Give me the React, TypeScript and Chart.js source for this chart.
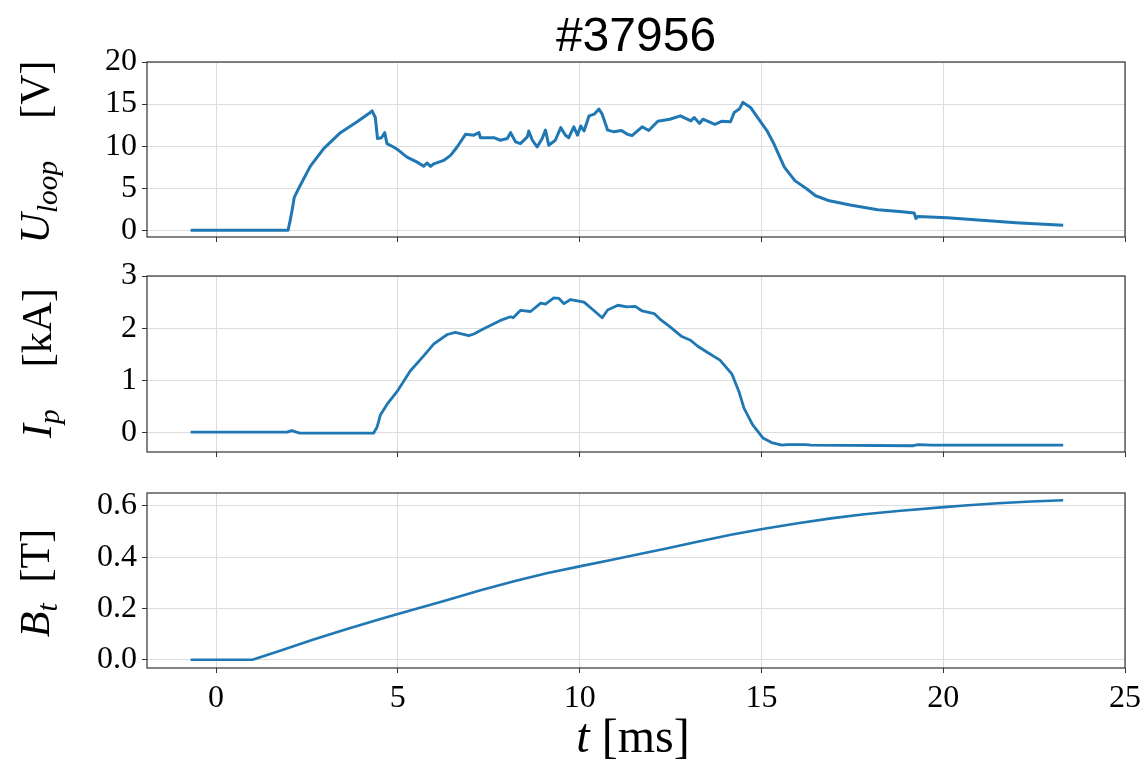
import React, { useEffect, useRef } from 'react';
import { Chart, registerables } from 'chart.js';

Chart.register(...registerables);

// ---------- data ----------
const titleText = '#37956';

const uloopTime = [
  -0.7, 1.98, 2.04, 2.1, 2.15, 2.31, 2.59, 2.96, 3.42, 3.88, 4.24, 4.29, 4.38, 4.44, 4.55, 4.64, 4.7, 4.88,
  5.02, 5.25, 5.53, 5.71, 5.8, 5.9, 5.99, 6.26, 6.45, 6.63, 6.86, 7.09, 7.23, 7.27, 7.64, 7.82, 8.01,
  8.1, 8.24, 8.37, 8.56, 8.6, 8.7, 8.83, 8.97, 9.06, 9.15, 9.33, 9.48, 9.61, 9.7, 9.84, 9.94, 10.03,
  10.12, 10.26, 10.4, 10.53, 10.62, 10.77, 10.95, 11.15, 11.32, 11.44, 11.72, 11.9, 12.15, 12.48,
  12.77, 13.06, 13.15, 13.3, 13.39, 13.72, 13.9, 14.15, 14.25, 14.39, 14.49, 14.63, 14.7, 14.96,
  15.15, 15.34, 15.63, 15.92, 16.25, 16.49, 16.87, 17.44, 18.2, 18.87, 19.2, 19.25, 19.3, 20.11,
  21.06, 22.0, 23.3,
];
const uloopValues = [
  0, 0, 1.2, 2.6, 3.9, 5.3, 7.6, 9.7, 11.6, 12.9, 14.0, 14.2, 13.4, 10.9, 11.0, 11.6, 10.3, 9.9,
  9.5, 8.7, 8.1, 7.6, 8.0, 7.6, 7.9, 8.3, 8.9, 9.9, 11.4, 11.3, 11.6, 11.0, 11.0, 10.7, 10.9,
  11.6, 10.5, 10.3, 11.1, 11.8, 10.7, 9.9, 10.9, 11.9, 10.1, 10.7, 12.2, 11.3, 11.0, 12.3, 11.3, 12.4,
  11.8, 13.6, 13.8, 14.4, 13.8, 11.9, 11.7, 11.85, 11.4, 11.26, 12.3, 11.85, 12.95, 13.2,
  13.6, 13.0, 13.4, 12.7, 13.2, 12.6, 12.95, 12.9, 14.0, 14.4, 15.2, 14.8, 14.6, 13.0,
  11.85, 10.3, 7.5, 5.9, 4.9, 4.1, 3.5, 3.0, 2.45, 2.2, 2.05, 1.4, 1.65, 1.5,
  1.2, 0.9, 0.6,
];

const ipTime = [
  -0.7, 1.95, 2.08, 2.3, 4.33, 4.43, 4.52, 4.7, 4.98, 5.34, 5.71, 5.99, 6.36, 6.58, 6.95, 7.09,
  7.36, 7.82, 8.1, 8.17, 8.37, 8.65, 8.93, 9.06, 9.29, 9.43, 9.57, 9.75, 10.12, 10.39, 10.62,
  10.77, 11.05, 11.3, 11.53, 11.72, 12.05, 12.2, 12.48, 12.81, 13.05, 13.24, 13.53, 13.86,
  14.19, 14.38, 14.52, 14.76, 15.04, 15.28, 15.56, 15.7, 16.23, 16.36, 19.18, 19.3, 19.67, 23.3,
];
const ipValues = [
  0.01, 0.01, 0.04, -0.01, -0.01, 0.11, 0.34, 0.54, 0.79, 1.18, 1.47, 1.7, 1.88, 1.92, 1.86, 1.89,
  1.99, 2.15, 2.22, 2.2, 2.34, 2.32, 2.48, 2.46, 2.58, 2.57, 2.47, 2.55, 2.5, 2.34, 2.2,
  2.35, 2.44, 2.41, 2.42, 2.33, 2.28, 2.18, 2.03, 1.84, 1.77, 1.66, 1.53, 1.39,
  1.12, 0.79, 0.47, 0.15, -0.1, -0.19, -0.24, -0.23, -0.23, -0.24, -0.25, -0.23, -0.24, -0.24,
];

const btTime = [
  -0.7, 1.0, 1.74, 2.66, 3.58, 4.5, 5.0, 6.34, 7.25, 8.17, 9.09, 10.0, 10.93, 11.85, 12.32, 13.24,
  14.16, 15.03, 16.0, 16.91, 17.83, 18.75, 20.02, 20.59, 21.5, 22.42, 23.3,
];
const btValues = [
  0, 0, 0.034, 0.078, 0.119, 0.158, 0.178, 0.232, 0.27, 0.305, 0.337, 0.364, 0.391, 0.418, 0.432, 0.46,
  0.487, 0.51, 0.532, 0.551, 0.567, 0.58, 0.595, 0.601, 0.61, 0.617, 0.622,
];

const xTicks = [0, 5, 10, 15, 20, 25];
const uloopTicks = [0, 5, 10, 15, 20];
const ipTicks = [0, 1, 2, 3];
const btTicks = [0, 0.2, 0.4, 0.6];

// ---------- layout ----------
const W = 1146;
const H = 762;
const PLOT_LEFT = 147;
const PLOT_RIGHT = 1125;
const LINE_COLOR = '#1f77b4';
const GRID_COLOR = '#dddddd';
const FRAME_COLOR = '#333333';
const SERIF = "'Liberation Serif', 'DejaVu Serif', serif";

type Panel = {
  top: number;
  height: number;
  areaTop: number;
  areaBottom: number;
  xs: number[];
  ys: number[];
  yMin: number;
  yMax: number;
  yTicks: number[];
  fmt: (v: number) => string;
  showX: boolean;
  width: number;
};

const panels: Panel[] = [
  { top: 0, height: 252, areaTop: 62, areaBottom: 237, xs: uloopTime, ys: uloopValues, yMin: -0.8, yMax: 20, yTicks: uloopTicks, fmt: (v) => String(v), showX: false, width: 3 },
  { top: 252, height: 214, areaTop: 276, areaBottom: 452, xs: ipTime, ys: ipValues, yMin: -0.37, yMax: 3, yTicks: ipTicks, fmt: (v) => String(v), showX: false, width: 2.8 },
  { top: 466, height: 296, areaTop: 493, areaBottom: 668, xs: btTime, ys: btValues, yMin: -0.032, yMax: 0.65, yTicks: btTicks, fmt: (v) => v.toFixed(1), showX: true, width: 2.6 },
];

const framePlugin = {
  id: 'frame',
  afterDraw(chart: any) {
    const { ctx, chartArea } = chart;
    ctx.save();
    ctx.strokeStyle = FRAME_COLOR;
    ctx.lineWidth = 1.2;
    ctx.strokeRect(chartArea.left, chartArea.top, chartArea.right - chartArea.left, chartArea.bottom - chartArea.top);
    ctx.restore();
  },
};

function PanelChart({ p }: { p: Panel }) {
  const ref = useRef<HTMLCanvasElement | null>(null);
  useEffect(() => {
    if (!ref.current) return;
    const data = p.xs.map((x, i) => ({ x, y: p.ys[i] }));
    const chart = new Chart(ref.current, {
      type: 'line',
      data: {
        datasets: [
          {
            data,
            borderColor: LINE_COLOR,
            borderWidth: p.width,
            pointRadius: 0,
            tension: 0,
            fill: false,
            borderJoinStyle: 'round',
          },
        ],
      },
      plugins: [framePlugin],
      options: {
        responsive: false,
        animation: false,
        devicePixelRatio: 1,
        layout: { padding: { left: 0, right: W - PLOT_RIGHT, top: p.areaTop - p.top, bottom: 0 } },
        plugins: { legend: { display: false }, tooltip: { enabled: false }, title: { display: false } },
        scales: {
          x: {
            type: 'linear',
            min: -1.9,
            max: 25,
            afterBuildTicks: (s: any) => {
              s.ticks = xTicks.map((v) => ({ value: v }));
            },
            afterFit: (s: any) => {
              s.height = p.top + p.height - p.areaBottom;
              s.paddingLeft = 0;
              s.paddingRight = 0;
            },
            grid: { color: GRID_COLOR, lineWidth: 1, drawTicks: true, tickLength: 5, tickColor: FRAME_COLOR, tickWidth: 1 },
            border: { display: false },
            ticks: {
              display: p.showX,
              padding: 6,
              color: '#000',
              font: { family: SERIF, size: 32 },
              maxRotation: 0,
              autoSkip: false,
              callback: (v: any) => String(v),
            },
          },
          y: {
            type: 'linear',
            min: p.yMin,
            max: p.yMax,
            afterBuildTicks: (s: any) => {
              s.ticks = p.yTicks.map((v) => ({ value: v }));
            },
            afterFit: (s: any) => {
              s.width = PLOT_LEFT;
              s.paddingTop = 0;
              s.paddingBottom = 0;
            },
            grid: { color: GRID_COLOR, lineWidth: 1, drawTicks: true, tickLength: 5, tickColor: FRAME_COLOR, tickWidth: 1 },
            border: { display: false },
            ticks: {
              padding: 5,
              color: '#000',
              font: { family: SERIF, size: 32 },
              autoSkip: false,
              callback: (v: any) => p.fmt(Number(v)),
            },
          },
        },
      },
    } as any);
    return () => chart.destroy();
  }, [p]);
  return (
    <canvas
      ref={ref}
      width={W}
      height={p.height}
      style={{ position: 'absolute', left: 0, top: p.top, width: W, height: p.height }}
    />
  );
}

const yLabelStyle = (cx: number, cy: number): React.CSSProperties => ({
  position: 'absolute',
  left: cx,
  top: cy,
  transform: 'translate(-50%, -50%) rotate(-90deg)',
  whiteSpace: 'nowrap',
  fontFamily: SERIF,
  fontSize: 42,
  lineHeight: 1,
  color: '#000',
});

const subStyle: React.CSSProperties = { fontSize: '0.7em', fontStyle: 'italic', verticalAlign: '-0.28em' };

export default function App() {
  return (
    <div style={{ position: 'absolute', left: 0, top: 0, width: W, height: H, background: '#fff', overflow: 'hidden' }}>
      {panels.map((p, i) => (
        <PanelChart key={i} p={p} />
      ))}
      <div
        style={{
          position: 'absolute',
          left: 636,
          top: 11,
          transform: 'translateX(-50%)',
          fontFamily: "'Liberation Sans', Arial, sans-serif",
          fontSize: 48,
          lineHeight: '48px',
          whiteSpace: 'nowrap',
          color: '#000',
        }}
      >
        {titleText}
      </div>
      <div style={yLabelStyle(38, 152)}>
        <i>U</i>
        <span style={subStyle}>loop</span>
        <span>{'\u2003[V]'}</span>
      </div>
      <div style={yLabelStyle(40, 363)}>
        <i>I</i>
        <span style={subStyle}>p</span>
        <span>{'\u2003[kA]'}</span>
      </div>
      <div style={yLabelStyle(38, 583)}>
        <i>B</i>
        <span style={subStyle}>t</span>
        <span>{'\u2002[T]'}</span>
      </div>
      <div
        style={{
          position: 'absolute',
          left: 633,
          top: 736,
          transform: 'translate(-50%, -50%)',
          fontFamily: SERIF,
          fontSize: 48,
          lineHeight: 1,
          whiteSpace: 'nowrap',
          color: '#000',
        }}
      >
        <i>t</i>
        <span>{'\u2005[ms]'}</span>
      </div>
    </div>
  );
}
